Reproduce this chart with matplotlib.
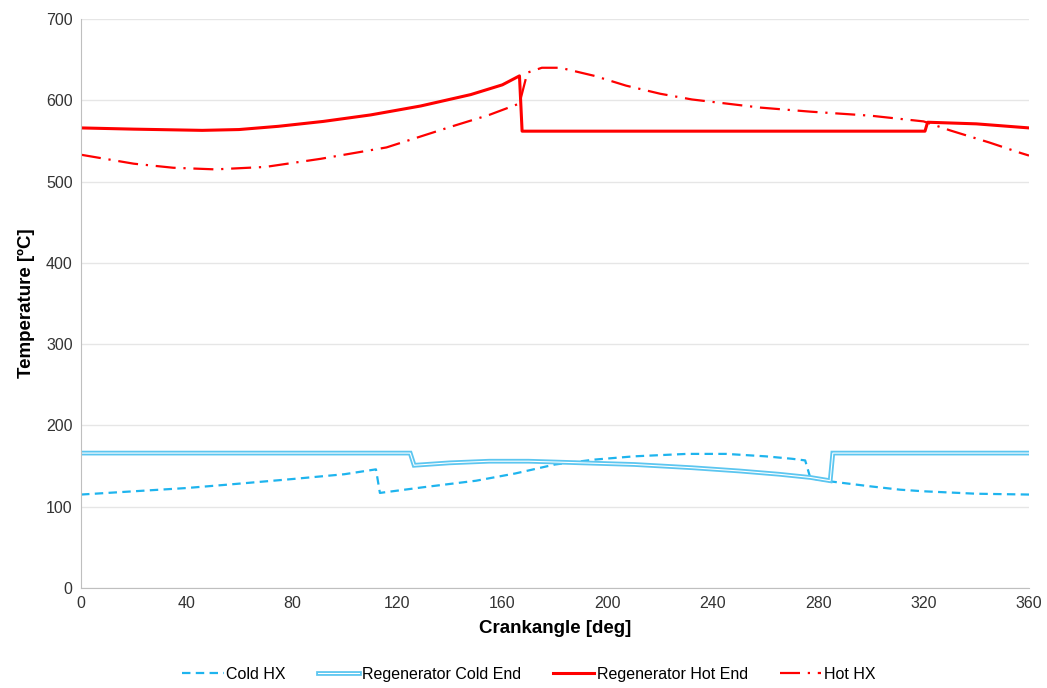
import matplotlib.pyplot as plt
from matplotlib.lines import Line2D

plt.rcParams['font.family'] = ['Liberation Sans', 'DejaVu Sans']

# Cold HX
cold_hx_x = [0, 20, 40, 55, 80, 100, 112, 113.5, 130, 150, 165, 180, 195, 210, 230, 245, 260, 270, 275, 277, 285, 300, 311, 320, 340, 360]
cold_hx_y = [115, 119, 123, 127, 134, 140, 146, 117, 124, 132, 141, 152, 158, 162, 165, 165, 162, 159, 157, 135, 131, 125, 121, 119, 116, 115]

# Regenerator Cold End
regen_cold_x = [0, 125, 126.5, 140, 155, 170, 190, 210, 232, 250, 265, 277, 284.5, 285.5, 360]
regen_cold_y = [166, 166, 151, 154, 156, 156, 154, 152, 148, 144, 140, 136, 132, 166, 166]

# Regenerator Hot End
regen_hot_x = [0, 20, 46, 60, 75, 92, 110, 129, 148, 160, 166.5, 167.5, 320.5, 321.5, 340, 360]
regen_hot_y = [566, 564.5, 563, 564, 568, 574, 582, 593, 607, 619, 630, 562, 562, 573, 571, 566]

# Hot HX
hot_hx_x = [0, 20, 35, 51, 70, 91, 116, 141, 155, 166.5, 169.5, 175, 182, 195, 207, 220, 232, 258, 277, 300, 320, 330, 345, 357, 360]
hot_hx_y = [533, 522, 517, 515, 518, 528, 542, 568, 582, 596, 634, 640, 640, 630, 618, 608, 601, 591, 586, 581, 574, 563, 548, 535, 532]

fig = plt.figure(figsize=(10.47, 6.88), dpi=100)
ax = fig.add_axes([0.0774, 0.1453, 0.9054, 0.8271])

cold_blue = '#1EB4EE'
regen_blue = '#5CC6F0'
red = '#FF0000'

ax.plot(cold_hx_x, cold_hx_y, color=cold_blue, lw=1.6, dashes=(3.8, 2.4))
ax.plot(regen_cold_x, regen_cold_y, color=regen_blue, lw=3.4, solid_joinstyle='miter')
ax.plot(regen_cold_x, regen_cold_y, color='white', lw=0.8, solid_joinstyle='miter')
ax.plot(regen_hot_x, regen_hot_y, color=red, lw=2.2)
ax.plot(hot_hx_x, hot_hx_y, color=red, lw=1.6, dashes=(9, 3.5, 1, 3.5))

ax.set_xlim(0, 360)
ax.set_ylim(0, 700)
ax.set_xticks(range(0, 361, 40))
ax.set_yticks(range(0, 701, 100))
ax.tick_params(length=0, labelsize=11.5, colors='#333333', pad=6)
ax.grid(True, axis='y', color='#E6E6E6', lw=1)
ax.set_axisbelow(True)
for s in ['top', 'right']:
    ax.spines[s].set_visible(False)
for s in ['left', 'bottom']:
    ax.spines[s].set_color('#BFBFBF')

ax.set_xlabel('Crankangle [deg]', fontsize=13.5, fontweight='bold', labelpad=6)
ax.set_ylabel('Temperature [ºC]', fontsize=13.5, fontweight='bold', labelpad=8)

h_cold = Line2D([], [], color=cold_blue, lw=1.6, dashes=(3.8, 2.4))
h_regc = (Line2D([], [], color=regen_blue, lw=3.4), Line2D([], [], color='white', lw=0.8))
h_regh = Line2D([], [], color=red, lw=2.2)
h_hot = Line2D([], [], color=red, lw=1.6, dashes=(9, 3.5, 1, 3.5))

fig.legend([h_cold, h_regc, h_regh, h_hot],
           ['Cold HX', 'Regenerator Cold End', 'Regenerator Hot End', 'Hot HX'],
           loc='lower center', bbox_to_anchor=(0.505, -0.012), ncol=4, frameon=False,
           fontsize=11.5, handlelength=2.6, handletextpad=0.15, columnspacing=2.0)

fig.savefig('out.png', dpi=100)
